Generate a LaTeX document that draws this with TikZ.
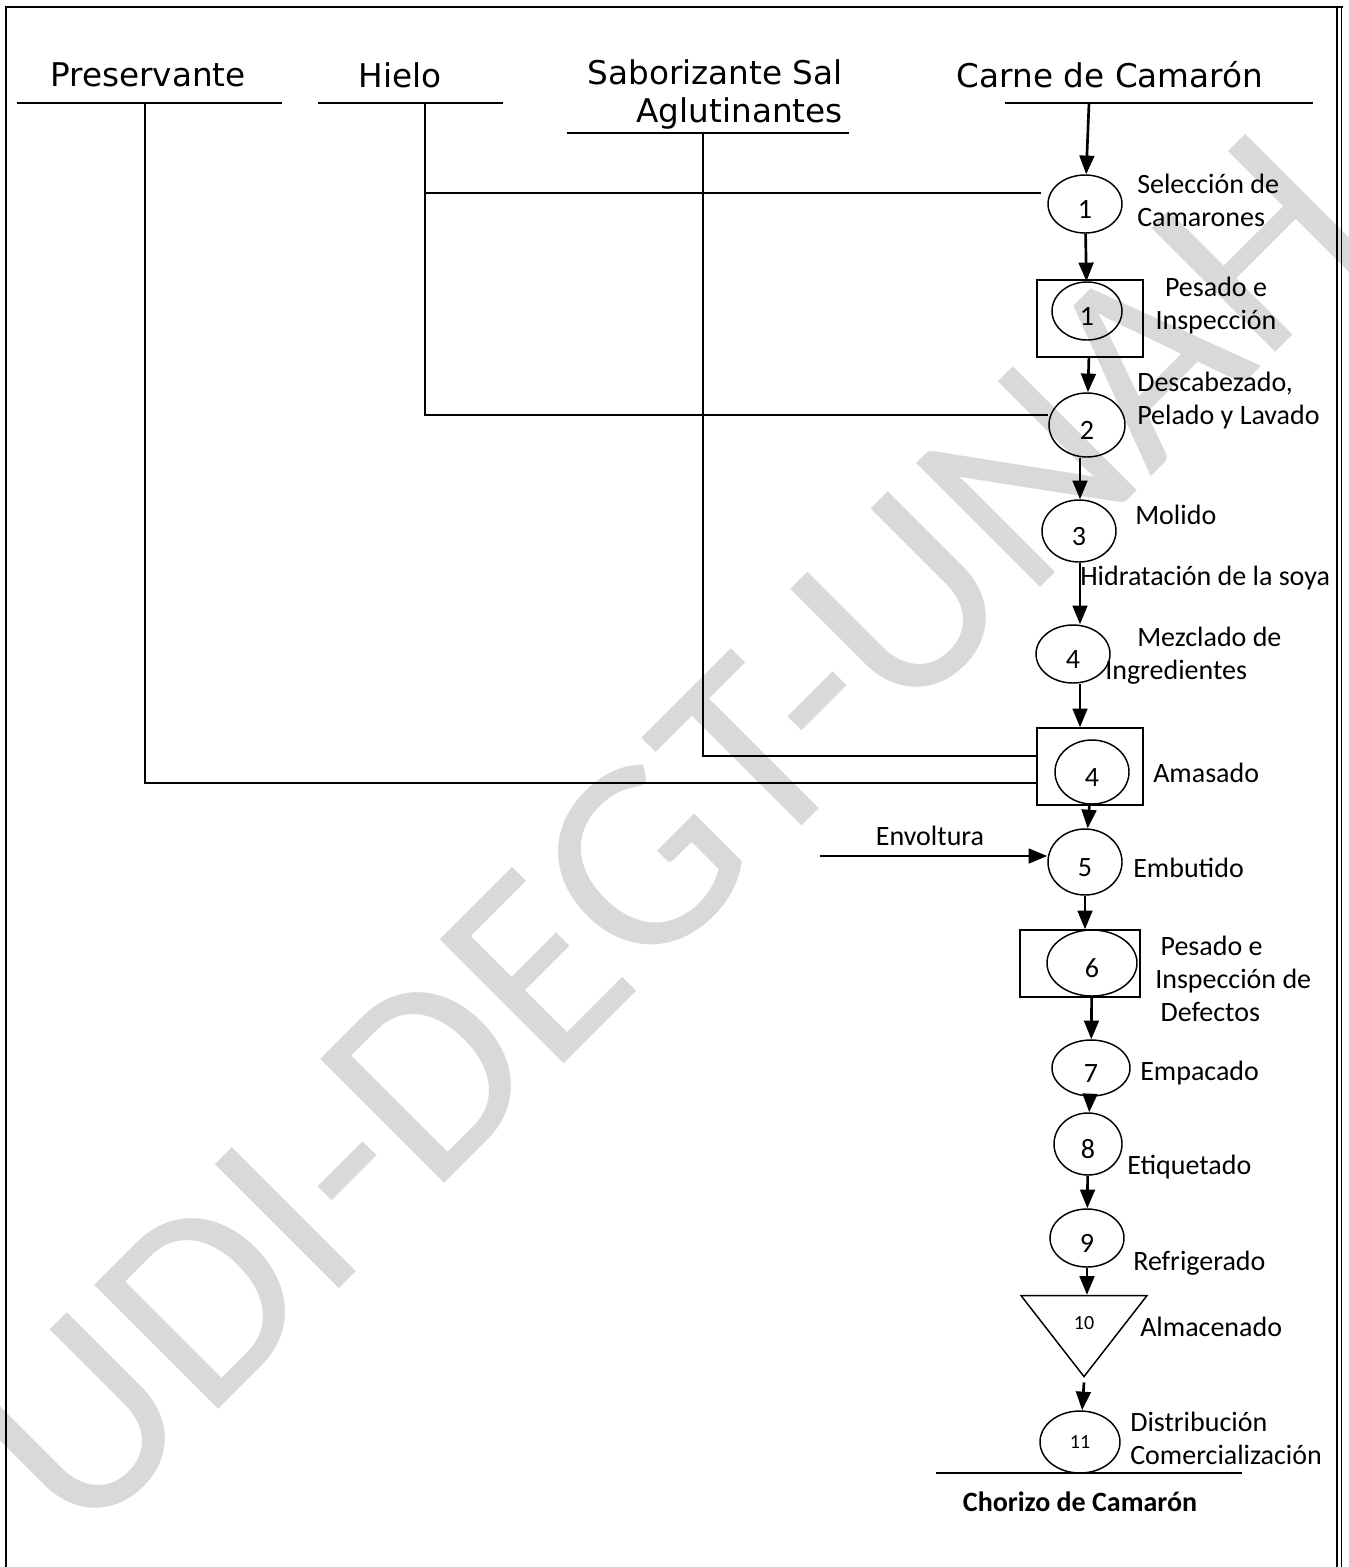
\documentclass[tikz,border=0pt]{standalone}
\usepackage{fontspec}
\setmainfont{Carlito}
\newfontfamily\headfont{DejaVu Sans}
\usetikzlibrary{shapes.geometric,arrows.meta,calc}

\begin{document}
\begin{tikzpicture}[x=0.75pt,y=-0.75pt,
    op/.style={ellipse,draw,line width=1.1pt,inner sep=0pt,text height=22pt,text depth=0pt,
               font=\fontsize{21}{24}\selectfont},
    insp/.style={rectangle,draw,line width=1.1pt,inner sep=0pt},
    lbl/.style={font=\fontsize{21}{24.75}\selectfont,inner sep=0pt},
    head/.style={font=\headfont\fontsize{24.5}{28.5}\selectfont,inner sep=0pt},
    flow/.style={line width=2pt,-{Triangle[length=14pt,width=11pt]}},
    feed/.style={line width=0.9pt},
    rule/.style={line width=1.4pt}]

  \useasboundingbox (0,0) rectangle (1349,1567);

  % watermark
  \node[rotate=45,text=black!15,inner sep=0pt,font=\fontsize{205}{205}\selectfont] (wm) at (670,834) {UDI-DEGT-UNAH};

  % frame
  \draw[line width=2.2pt] (6,1567) -- (6,7) -- (1343,7);
  \draw[line width=1.4pt] (1341.5,6) -- (1341.5,1567);
  \draw[line width=1.2pt] (1337,7) -- (1337,1567);

  % raw materials
  \begin{scope}[every node/.style={head}]
    \node (prs) at (148,75) {Preservante};
    \node (hie) at (400,75) {Hielo};
    \node[anchor=east,align=right] (sab) at (843,94) {Saborizante Sal\\Aglutinantes};
    \node (crn) at (1110,75) {Carne de Camarón};
  \end{scope}
  \draw[rule] (17,103) -- (282,103);
  \draw[rule] (318,103) -- (503,103);
  \draw[rule] (567,133) -- (849,133);
  \draw[rule] (1005,103) -- (1313,103);
  \coordinate (prs-b) at (145,103);
  \coordinate (hie-b) at (425,103);
  \coordinate (sab-b) at (703,133);
  \coordinate (crn-b) at (1089,103);
  \coordinate (env-a) at (820,856);
  \coordinate (col) at (1080,0);

  % operations and inspections
  \begin{scope}[every node/.style={op}]
    \node[minimum width=55.5pt,minimum height=43.5pt] (o1) at (1085,204) {1};
    \node[insp,minimum width=79.5pt,minimum height=57.75pt] (i1) at (1090,318.5) {};
    \node[minimum width=52.5pt,minimum height=43.5pt] (i1e) at (1087,311) {1};
    \node[minimum width=57pt,minimum height=48pt] (o2) at (1087,425) {2};
    \node[minimum width=55.5pt,minimum height=46.5pt] (o3) at (1079,531) {3};
    \node[minimum width=55.5pt,minimum height=43.5pt] (o4) at (1073,654) {4};
    \node[insp,minimum width=79.5pt,minimum height=57.75pt] (i4) at (1090,766.5) {};
    \node[minimum width=55.5pt,minimum height=48pt] (i4e) at (1092,772) {4};
    \node[minimum width=55.5pt,minimum height=49.5pt] (o5) at (1085,862) {5};
    \node[insp,minimum width=90pt,minimum height=50.25pt] (i6) at (1080,963.5) {};
    \node[minimum width=67.5pt,minimum height=49.5pt] (i6e) at (1092,963) {6};
    \node[minimum width=58.5pt,minimum height=42pt] (o7) at (1091,1068) {7};
    \node[minimum width=51pt,minimum height=46.5pt] (o8) at (1088,1144) {8};
    \node[minimum width=55.5pt,minimum height=43.5pt] (o9) at (1087,1238) {9};
    \node[isosceles triangle,shape border rotate=270,isosceles triangle stretches,
          text height=10pt,minimum width=94.5pt,minimum height=60.75pt,
          font=\fontsize{15}{15}\selectfont] (s10) at (1084,1323) {10};
    \node[minimum width=60pt,minimum height=46.5pt,text height=10pt,
          font=\fontsize{15}{15}\selectfont] (o11) at (1080,1442) {11};
  \end{scope}

  % step names
  \begin{scope}[every node/.style={lbl,anchor=west,align=left}]
    \node (l1) at (1137,200) {Selección de\\Camarones};
    \node[anchor=center,align=center] (l2) at (1216,306) {Pesado e\\Inspección};
    \node (l3) at (1137,401) {Descabezado,\\Pelado y Lavado};
    \node (l4) at (1135,515) {Molido};
    \node (l5) at (1080,578) {Hidratación de la soya};
    \node (l6) at (1105,656) {\hspace*{24pt}Mezclado de\\Ingredientes};
    \node (l7) at (1153,773) {Amasado};
    \node[anchor=center] (l8) at (930,836) {Envoltura};
    \node (l9) at (1133,868) {Embutido};
    \node (l10) at (1155,979) {\hspace*{4pt}Pesado e\\Inspección de\\\hspace*{4pt}Defectos};
    \node (l11) at (1140,1073) {Empacado};
    \node (l12) at (1127,1167) {Etiquetado};
    \node (l13) at (1133,1263) {Refrigerado};
    \node (l14) at (1140,1327) {Almacenado};
    \node (l15) at (1130,1438) {Distribución\\Comercialización};
  \end{scope}

  % product
  \draw[feed] (936,1473) -- (1242,1473);
  \node[font=\bfseries\fontsize{21}{24}\selectfont,inner sep=0pt] (prod) at (1080,1502) {Chorizo de Camarón};

  % main flow
  \draw[flow] (crn-b) -- (o1);
  \draw[flow] (o1) -- (i1e);
  \draw[flow] (i1) -- (o2);
  \draw[flow] (o2.south -| col) -- (o3.north -| col);
  \draw[flow] (o3.south -| col) -- (o4.north -| col);
  \draw[flow] (o4.south -| col) -- (i4.north -| col);
  \draw[flow] (i4e) -- (o5);
  \draw[flow] (o5) -- (o5 |- i6.north);
  \draw[flow] (i6e) -- (o7);
  \draw[flow] (o7) -- (o8);
  \draw[flow] (o8) -- (o9);
  \draw[flow] (o9) -- (o9 |- s10.north);
  \draw[flow] ($(s10.apex)+(0,4)$) -- (o11);
  \draw[flow] (env-a) -- (env-a -| o5.west);

  % feeds
  \coordinate (hie-1) at ($(o1.west)+(-6,-11)$);
  \draw[feed] (hie-b) |- ($(o2.west)+(0,-10)$);
  \draw[feed] (hie-b |- hie-1) -- (hie-1);
  \draw[feed] (sab-b) |- ($(i4.west)+(0,-10.5)$);
  \draw[feed] (prs-b) |- ($(i4.west)+(0,16.5)$);

\end{tikzpicture}
\end{document}
